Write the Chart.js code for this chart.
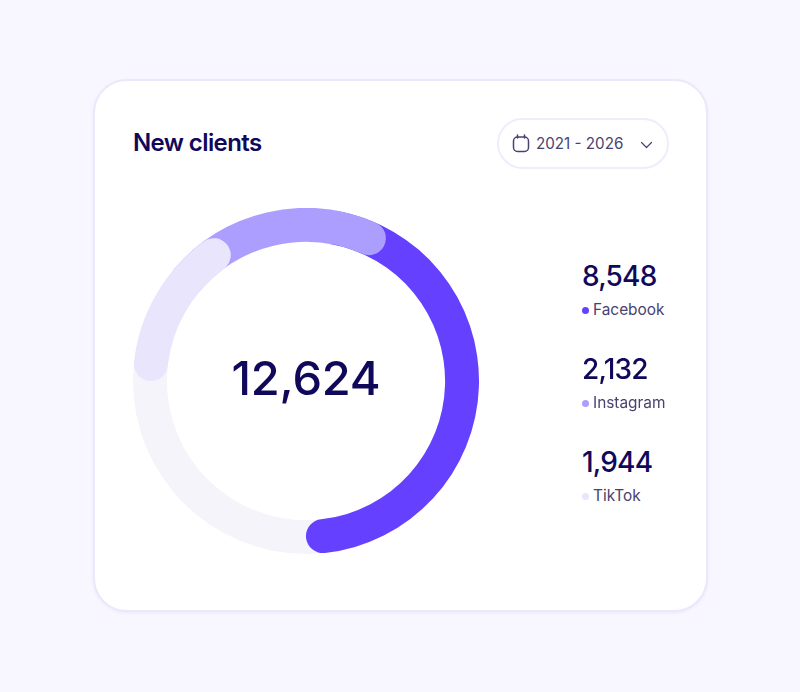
<!DOCTYPE html>
<html lang="en">
<head>
<meta charset="utf-8">
<title>New clients</title>
<script src="https://cdn.jsdelivr.net/npm/chart.js@4"></script>
<style>
  html, body { margin: 0; padding: 0; }
  body { width: 800px; height: 692px; background: #f8f6ff; position: relative; overflow: hidden; font-family: Inter, sans-serif; color: #10095a; }
  .card { position: absolute; left: 93px; top: 79px; width: 611px; height: 529px; background: #fff; border: 2px solid #ebe8fa; border-radius: 34px; box-shadow: 0 1px 3px rgba(101, 64, 255, 0.08); }
  .title { position: absolute; left: 133px; top: 128px; font-size: 24px; line-height: 30px; font-weight: 590; letter-spacing: -0.6px; }
  .range { position: absolute; left: 497px; top: 118px; width: 168px; height: 47px; border: 2px solid #efecfc; border-radius: 26px; color: #47426f; }
  .range span { position: absolute; left: 37px; top: 14px; font-size: 15.2px; line-height: 20px; white-space: nowrap; }
  .range svg { position: absolute; fill: none; stroke: #47426f; stroke-linecap: round; stroke-linejoin: round; }
  #donut-wrap { position: absolute; left: 133px; top: 208px; width: 346px; height: 346px; }
  .total { position: absolute; left: 133px; top: 348px; width: 346px; text-align: center; font-size: 47px; line-height: 60px; font-weight: 520; letter-spacing: -0.2px; }
  .item { position: absolute; left: 582px; white-space: nowrap; }
  .item .num { font-size: 28px; line-height: 34px; font-weight: 520; letter-spacing: -0.8px; }
  .item .name { position: relative; margin-top: 7px; padding-left: 11px; font-size: 15.4px; line-height: 20px; color: #47426f; }
  .item .dot { position: absolute; left: 0; top: 7px; width: 7px; height: 7px; border-radius: 50%; }
</style>
</head>
<body>
<div class="card"></div>
<div class="title">New clients</div>
<div class="range">
  <svg style="left:13px;top:14px" width="18" height="19" viewBox="0 0 18 19" stroke-width="1.5"><rect x="1.5" y="3" width="15" height="14.5" rx="4"/><path d="M5.5 1v3M12.5 1v3"/></svg>
  <span>2021 - 2026</span>
  <svg style="left:141px;top:21px" width="13" height="8" viewBox="0 0 13 8" stroke-width="1.2"><path d="M1.5 1.5l5 5 5-5"/></svg>
</div>
<div id="donut-wrap"><canvas id="donut" width="346" height="346"></canvas></div>
<div class="total" id="total"></div>
<div id="legend"></div>

<script>
// values shown in the side list
const categories = ['Facebook', 'Instagram', 'TikTok'];
const clientCounts = [8548, 2132, 1944];
const totalClients = 12624;

// arcs as drawn in the picture, in degrees clockwise from the top (not proportional to the counts)
const arcStarts = [30, 330, 270];
const arcSweeps = [150, 60, 60];
const trackSweep = [360];

const arcColors = ['#6540ff', '#ac9eff', '#e9e5fd'];
const trackColor = '#f5f4fb';
const legendTops = [259, 352, 445];

// each arc slides under the one drawn over it
const tuck = 20;

// doughnut whose datasets all sit on the same ring instead of nesting
class SameRingDoughnut extends Chart.DoughnutController {
    _getRingWeightOffset() { return 0; }
    _getRingWeight() { return 1; }
    _getVisibleDatasetWeightTotal() { return 1; }
}
SameRingDoughnut.id = 'sameRingDoughnut';
SameRingDoughnut.defaults = Chart.DoughnutController.defaults;
SameRingDoughnut.overrides = Chart.DoughnutController.overrides;
Chart.register(SameRingDoughnut);

function arcDataset(index) {
    // TikTok is rounded at both ends, the other two only at the clockwise end
    const roundStart = index === 2 ? 17 : 0;
    const start = index === 2 ? arcStarts[index] : arcStarts[index] - tuck;
    const sweep = index === 2 ? arcSweeps[index] : arcSweeps[index] + tuck;
    return {
        data: [sweep, 360 - sweep],
        rotation: start,
        backgroundColor: [arcColors[index], 'rgba(0,0,0,0)'],
        borderWidth: 0,
        borderRadius: [{ outerStart: roundStart, innerStart: roundStart, outerEnd: 17, innerEnd: 17 }, 0]
    };
}

function initChart() {
    const ctx = document.getElementById('donut').getContext('2d');

    // first dataset is painted last
    const datasets = [arcDataset(2), arcDataset(1), arcDataset(0), {
        data: trackSweep,
        backgroundColor: [trackColor],
        borderWidth: 0
    }];

    new Chart(ctx, {
        type: 'sameRingDoughnut',
        data: { labels: categories, datasets: datasets },
        options: {
            responsive: false,
            animation: false,
            cutout: '80.4%',
            layout: { padding: 0 },
            plugins: {
                legend: { display: false },
                tooltip: { enabled: false }
            }
        }
    });
}

function fillText() {
    document.getElementById('total').textContent = totalClients.toLocaleString('en-US');
    const legend = document.getElementById('legend');
    categories.forEach((name, i) => {
        const item = document.createElement('div');
        item.className = 'item';
        item.style.top = legendTops[i] + 'px';
        item.innerHTML = `<div class="num">${clientCounts[i].toLocaleString('en-US')}</div>` +
            `<div class="name"><i class="dot" style="background:${arcColors[i]}"></i>${name}</div>`;
        legend.appendChild(item);
    });
}

fillText();
initChart();
</script>
</body>
</html>
